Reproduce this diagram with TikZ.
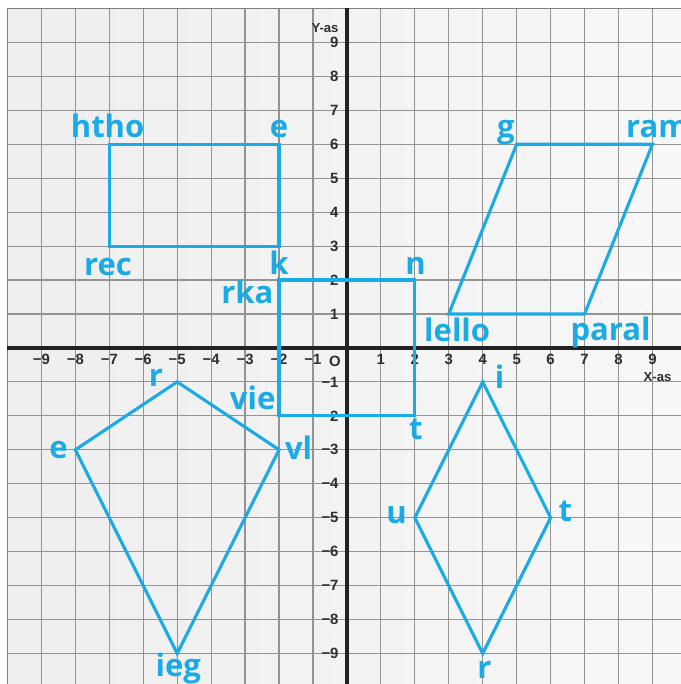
\documentclass[tikz,border=0pt]{standalone}
\usepackage{fontspec}
\newfontfamily\lblfont{Open Sans}
\newfontfamily\axfont{Liberation Sans}
\definecolor{shapeblue}{HTML}{1AAAE6}
\definecolor{gridgray}{HTML}{939393}
\definecolor{paper}{HTML}{EEEEEF}
\definecolor{axisblack}{HTML}{222222}
\definecolor{ticktext}{HTML}{2E2E2E}

\begin{document}
\begin{tikzpicture}[
    gridline/.style={draw=gridgray,line width=1pt},
    axisline/.style={draw=axisblack,line width=3.3pt},
    tick/.style={font=\axfont\bfseries\fontsize{12.5}{12.5}\selectfont,text=ticktext,inner sep=0pt},
    figure/.style={draw=shapeblue,line width=2.6pt,line join=miter},
    lbl/.style={font=\lblfont\bfseries\fontsize{26}{26}\selectfont,text=shapeblue,inner sep=0pt}
  ]
  \useasboundingbox (-10.22,-9.9) rectangle (9.84,10.25);
  \fill[left color=paper,right color=paper!45] (-10,-9.9) rectangle (9.84,10);
  \foreach \i in {-9,...,9} {
    \draw[gridline] (\i,-9.9) -- (\i,10);
    \draw[gridline] (-10,\i) -- (9.84,\i);
  }
  \draw[draw=gray,line width=1.5pt] (-10,-9.9) -- (-10,10) -- (9.84,10);
  \draw[axisline] (-10,0) -- (9.84,0);
  \draw[axisline] (0,-9.9) -- (0,10);

  \foreach \n in {1,...,9} {
    \node[tick] (xp\n) at (\n,-0.33) {\n};
    \node[tick] (xm\n) at (-\n,-0.33) {−\n};
    \node[tick,anchor=east] (yp\n) at (-0.24,\n) {\n};
    \node[tick,anchor=east] (ym\n) at (-0.24,-\n) {−\n};
  }
  \node[tick] (orig) at (-0.35,-0.39) {O};
  \node[tick,anchor=east,font=\axfont\bfseries\fontsize{11}{11}\selectfont] (yas) at (-0.24,9.41) {Y-as};
  \node[tick,font=\axfont\bfseries\fontsize{11}{11}\selectfont] (xas) at (9.15,-0.85) {X-as};

  % rechthoek
  \coordinate (rh1) at (-7,6);
  \coordinate (rh2) at (-2,6);
  \coordinate (rh3) at (-2,3);
  \coordinate (rh4) at (-7,3);
  \draw[figure] (rh1) -- (rh2) -- (rh3) -- (rh4) -- cycle;
  % vierkant
  \coordinate (vk1) at (-2,2);
  \coordinate (vk2) at (2,2);
  \coordinate (vk3) at (2,-2);
  \coordinate (vk4) at (-2,-2);
  \draw[figure] (vk1) -- (vk2) -- (vk3) -- (vk4) -- cycle;
  % parallellogram
  \coordinate (pg1) at (3,1);
  \coordinate (pg2) at (7,1);
  \coordinate (pg3) at (9,6);
  \coordinate (pg4) at (5,6);
  \draw[figure] (pg1) -- (pg2) -- (pg3) -- (pg4) -- cycle;
  % vlieger
  \coordinate (vl1) at (-5,-1);
  \coordinate (vl2) at (-2,-3);
  \coordinate (vl3) at (-5,-9);
  \coordinate (vl4) at (-8,-3);
  \draw[figure] (vl1) -- (vl2) -- (vl3) -- (vl4) -- cycle;
  % ruit
  \coordinate (ru1) at (4,-1);
  \coordinate (ru2) at (6,-5);
  \coordinate (ru3) at (4,-9);
  \coordinate (ru4) at (2,-5);
  \draw[figure] (ru1) -- (ru2) -- (ru3) -- (ru4) -- cycle;

  \node[lbl,anchor=base] (lhtho) at (-7.05,6.2) {htho};
  \node[lbl,anchor=base] (le) at (-2,6.2) {e};
  \node[lbl,anchor=base] (lrec) at (-7.04,2.12) {rec};
  \node[lbl,anchor=base] (lk) at (-2,2.15) {k};
  \node[lbl,anchor=base east] (lrka) at (-2.16,1.32) {rka};
  \node[lbl,anchor=base] (ln) at (2.02,2.15) {n};
  \node[lbl,anchor=base] (lt) at (2.03,-2.7) {t};
  \node[lbl,anchor=base east] (lvie) at (-2.1,-1.82) {vie};
  \node[lbl,anchor=base east] (lg) at (4.95,6.2) {g};
  \node[lbl,anchor=base west] (lram) at (8.22,6.2) {ram};
  \node[lbl,anchor=base west] (llello) at (2.27,0.18) {lello};
  \node[lbl,anchor=base west] (lparal) at (6.58,0.22) {paral};
  \node[lbl,anchor=base east] (lr) at (-5.41,-1.15) {r};
  \node[lbl,anchor=base east] (le2) at (-8.22,-3.26) {e};
  \node[lbl,anchor=base] (lieg) at (-4.97,-9.68) {ieg};
  \node[lbl,anchor=base west] (lvl) at (-1.83,-3.28) {vl};
  \node[lbl,anchor=base] (li) at (4.5,-1.2) {i};
  \node[lbl,anchor=base west] (lt2) at (6.23,-5.12) {t};
  \node[lbl,anchor=base] (lr2) at (4.05,-9.75) {r};
  \node[lbl,anchor=base east] (lu) at (1.77,-5.18) {u};
\end{tikzpicture}
\end{document}
